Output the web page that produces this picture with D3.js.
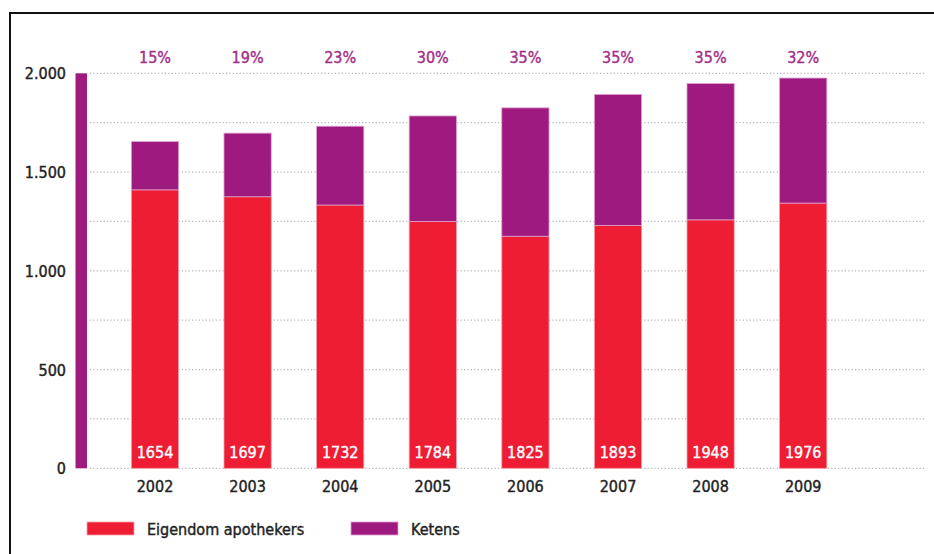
<!DOCTYPE html>
<html>
<head>
<meta charset="utf-8">
<script src="https://cdnjs.cloudflare.com/ajax/libs/d3/7.8.5/d3.min.js"></script>
<style>
    html, body { margin: 0; padding: 0; background: #fff; }
    svg text { font-family: "DejaVu Sans Condensed", "DejaVu Sans", sans-serif; font-stretch: condensed; stroke-width: 0.4; }
</style>
</head>
<body>
<svg id="chart" width="934" height="554"></svg>
<script>
(function (window, d3) {
    "use strict";

    // 数据
    var years = ["2002", "2003", "2004", "2005", "2006", "2007", "2008", "2009"];
    var eigendom = [1410, 1375, 1333, 1250, 1175, 1230, 1258, 1343];
    var ketens = [244, 322, 399, 534, 650, 663, 690, 633];
    var totalLabels = ["1654", "1697", "1732", "1784", "1825", "1893", "1948", "1976"];
    var pctLabels = ["15%", "19%", "23%", "30%", "35%", "35%", "35%", "32%"];
    var yTicks = [0, 500, 1000, 1500, 2000];
    var yTickLabels = ["0", "500", "1.000", "1.500", "2.000"];
    var gridValues = [0, 250, 500, 750, 1000, 1250, 1500, 1750, 2000];
    var legendNames = ["Eigendom apothekers", "Ketens"];

    var RED = "#ee1d33", PURPLE = "#9f1a7e";

    var svg = d3.select("#chart");

    var x = d3.scaleBand().domain(years).range([108.7, 849.5])
        .paddingInner(0.49).paddingOuter(0.245);
    var y = d3.scaleLinear().domain([0, 2000]).range([468.3, 73.3]);

    // 边框
    svg.append("rect").attr("x", 10).attr("y", 13).attr("width", 940).attr("height", 560)
        .attr("fill", "none").attr("stroke", "#111").attr("stroke-width", 2);

    // 网格线
    svg.append("g").selectAll("line").data(gridValues).enter().append("line")
        .attr("x1", 90).attr("x2", 926)
        .attr("y1", function (d) { return y(d); })
        .attr("y2", function (d) { return y(d); })
        .attr("stroke", "#b4b4b4").attr("stroke-width", 1.2)
        .attr("stroke-dasharray", "1.2,2.2");

    // 左侧紫色轴
    svg.append("rect").attr("x", 75.5).attr("width", 11.5)
        .attr("y", y(2000)).attr("height", y(0) - y(2000)).attr("fill", PURPLE);

    // y 轴标签
    svg.append("g").selectAll("text").data(yTicks).enter().append("text")
        .attr("x", 66).attr("y", function (d) { return y(d) + 6; })
        .attr("text-anchor", "end").attr("font-size", 16)
        .attr("fill", "#222").attr("stroke", "#222")
        .text(function (d, i) { return yTickLabels[i]; });

    // 柱子
    var bars = svg.append("g").selectAll("g").data(years).enter().append("g");
    bars.append("rect")
        .attr("x", function (d) { return x(d); })
        .attr("width", x.bandwidth())
        .attr("y", function (d, i) { return y(eigendom[i]); })
        .attr("height", function (d, i) { return y(0) - y(eigendom[i]); })
        .attr("fill", RED).attr("stroke", "#f6a0aa").attr("stroke-width", 0.8);
    bars.append("rect")
        .attr("x", function (d) { return x(d); })
        .attr("width", x.bandwidth())
        .attr("y", function (d, i) { return y(eigendom[i] + ketens[i]); })
        .attr("height", function (d, i) { return y(eigendom[i]) - y(eigendom[i] + ketens[i]); })
        .attr("fill", PURPLE).attr("stroke", "#dc9fcf").attr("stroke-width", 0.8);

    // 柱内数值
    bars.append("text")
        .attr("x", function (d) { return x(d) + x.bandwidth() / 2; })
        .attr("y", 457.5).attr("text-anchor", "middle")
        .attr("font-size", 16).attr("fill", "#fff").attr("stroke", "#fff")
        .text(function (d, i) { return totalLabels[i]; });

    // 百分比
    bars.append("text")
        .attr("x", function (d) { return x(d) + x.bandwidth() / 2; })
        .attr("y", 63).attr("text-anchor", "middle")
        .attr("font-size", 16).attr("fill", "#a2308a").attr("stroke", "#a2308a")
        .text(function (d, i) { return pctLabels[i]; });

    // x 轴标签
    bars.append("text")
        .attr("x", function (d) { return x(d) + x.bandwidth() / 2; })
        .attr("y", 492).attr("text-anchor", "middle")
        .attr("font-size", 16).attr("fill", "#222").attr("stroke", "#222")
        .text(function (d) { return d; });

    // 图例
    var legendX = [87, 351];
    var legend = svg.append("g").selectAll("g").data(legendNames).enter().append("g")
        .attr("transform", function (d, i) { return "translate(" + legendX[i] + ",522)"; });
    legend.append("rect").attr("width", 47).attr("height", 13)
        .attr("fill", function (d, i) { return i ? PURPLE : RED; })
        .attr("stroke", function (d, i) { return i ? "#dc9fcf" : "#f6a0aa"; }).attr("stroke-width", 0.8);
    legend.append("text").attr("x", 60).attr("y", 13)
        .attr("font-size", 16).attr("fill", "#222").attr("stroke", "#222")
        .text(function (d) { return d; });

})(window, d3);
</script>
</body>
</html>
